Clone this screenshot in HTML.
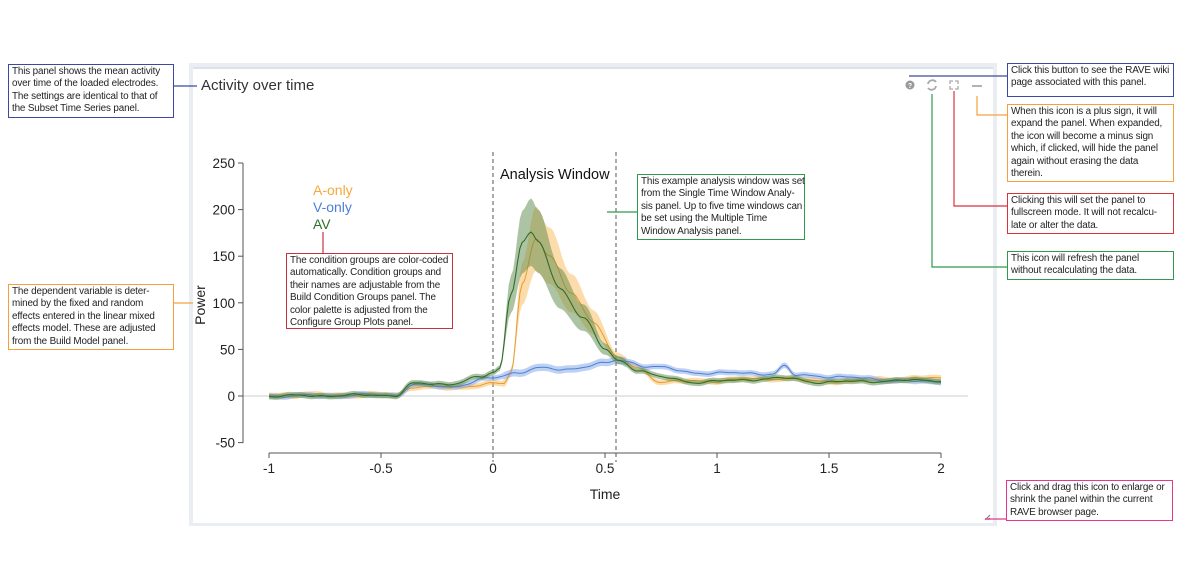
<!DOCTYPE html>
<html><head><meta charset="utf-8">
<style>
body{margin:0;width:1200px;height:561px;background:#fff;position:relative;overflow:hidden;font-family:"Liberation Sans",sans-serif;}
.ann{position:absolute;border:1.3px solid;background:#fff;font-size:9.9px;line-height:12.4px;color:#222;padding:1px 3px;box-sizing:border-box;white-space:nowrap;letter-spacing:-0.15px;}
svg{position:absolute;left:0;top:0}
</style></head><body>
<svg width="1200" height="561" id="s" xmlns="http://www.w3.org/2000/svg">
<rect x="189" y="63" width="808" height="463" fill="#eaeef3"/>
<rect x="193" y="67" width="800" height="456" fill="#fff"/>
<line x1="193" y1="68" x2="993" y2="68" stroke="#dde2e8" stroke-width="2"/>
<text x="201" y="90" font-size="15" fill="#333">Activity over time</text>
<circle cx="910" cy="85" r="4.5" fill="#999"/><text x="910" y="88" font-size="7" font-weight="bold" fill="#fff" text-anchor="middle">?</text>
<path d="M928 84 a4.5 4.5 0 0 1 8 -2 M936 86 a4.5 4.5 0 0 1 -8 2" stroke="#aaa" stroke-width="1.8" fill="none"/>
<path d="M950 84v-3h3 M955 81h3v3 M958 86v3h-3 M953 89h-3v-3" stroke="#aaa" stroke-width="1.3" fill="none"/>
<line x1="972" y1="86" x2="982" y2="86" stroke="#aaa" stroke-width="1.8"/>
<line x1="243" y1="396" x2="968" y2="396" stroke="#ddd" stroke-width="1.5"/>
<g stroke="#555" stroke-width="1" fill="none">
<line x1="243" y1="163" x2="243" y2="443"/>
<line x1="269" y1="453" x2="941" y2="453"/>
</g>
<g font-size="13.5" fill="#222" text-anchor="end" id="yt"></g>
<g font-size="13.5" fill="#222" text-anchor="middle" id="xt"></g>
<text x="605" y="499" font-size="14" text-anchor="middle" fill="#222">Time</text>
<text transform="translate(205,305) rotate(-90)" font-size="14" text-anchor="middle" fill="#222">Power</text>
<line x1="493" y1="152" x2="493" y2="462" stroke="#555" stroke-dasharray="4,3"/>
<line x1="616" y1="152" x2="616" y2="462" stroke="#555" stroke-dasharray="4,3"/>
<text x="500" y="179" font-size="14.5" fill="#111">Analysis Window</text>
<text x="313" y="195" font-size="14" fill="#f5a93c">A-only</text>
<text x="313" y="212" font-size="14" fill="#4c7fd6">V-only</text>
<text x="313" y="229" font-size="14" fill="#2f6e2a">AV</text>
<g id="curves"></g>
<path d="M985 520l5-5M988 520l2-2" stroke="#777"/>
<g fill="none" stroke-width="1.2">
<line x1="173" y1="86" x2="197" y2="86" stroke="#3b4aa0"/>
<line x1="173" y1="303" x2="193" y2="303" stroke="#f5a03c"/>
<line x1="323" y1="232" x2="323" y2="253" stroke="#c8323c"/>
<line x1="607" y1="212" x2="637" y2="212" stroke="#2f9a4f"/>
<line x1="909" y1="76" x2="1007" y2="76" stroke="#3b4aa0"/>
<polyline points="977,96 977,115 1007,115" stroke="#f5a03c"/>
<polyline points="954,91 954,206 1007,206" stroke="#d8323c"/>
<polyline points="932,94 932,267 1007,267" stroke="#2f9a4f"/>
<line x1="985" y1="519" x2="1006" y2="519" stroke="#e8368c"/>
</g>
</svg>
<div class="ann" style="left:8px;top:64px;width:166px;height:54px;border-color:#3b4aa0">This panel shows the mean activity<br>over time of the loaded electrodes.<br>The settings are identical to that of<br>the Subset Time Series panel.</div>
<div class="ann" style="left:8px;top:284px;width:166px;height:66px;border-color:#f5a03c">The dependent variable is deter-<br>mined by the fixed and random<br>effects entered in the linear mixed<br>effects model. These are adjusted<br>from the Build Model panel.</div>
<div class="ann" style="left:286px;top:253px;width:167px;height:76px;border-color:#c8323c">The condition groups are color-coded<br>automatically. Condition groups and<br>their names are adjustable from the<br>Build Condition Groups panel. The<br>color palette is adjusted from the<br>Configure Group Plots panel.</div>
<div class="ann" style="left:637px;top:174px;width:168px;height:66px;border-color:#2f9a4f">This example analysis window was set<br>from the Single Time Window Analy-<br>sis panel. Up to five time windows can<br>be set using the Multiple Time<br>Window Analysis panel.</div>
<div class="ann" style="left:1007px;top:63px;width:167px;height:34px;border-color:#3b4aa0">Click this button to see the RAVE wiki<br>page associated with this panel.</div>
<div class="ann" style="left:1007px;top:104px;width:167px;height:78px;border-color:#f5a03c">When this icon is a plus sign, it will<br>expand the panel. When expanded,<br>the icon will become a minus sign<br>which, if clicked, will hide the panel<br>again without erasing the data<br>therein.</div>
<div class="ann" style="left:1007px;top:193px;width:167px;height:41px;border-color:#d8323c">Clicking this will set the panel to<br>fullscreen mode. It will not recalcu-<br>late or alter the data.</div>
<div class="ann" style="left:1007px;top:251px;width:167px;height:29px;border-color:#2f9a4f">This icon will refresh the panel<br>without recalculating the data.</div>
<div class="ann" style="left:1006px;top:480px;width:167px;height:41px;border-color:#e8368c">Click and drag this icon to enlarge or<br>shrink the panel within the current<br>RAVE browser page.</div>
<script>
var NS="http://www.w3.org/2000/svg";
function X(t){return 493+224*t}function Y(v){return 396-0.932*v}
var yt=document.getElementById('yt');
[250,200,150,100,50,0,-50].forEach(function(v){var t=document.createElementNS(NS,'text');t.setAttribute('x',235);t.setAttribute('y',Y(v)+5);t.textContent=v;yt.appendChild(t);
var l=document.createElementNS(NS,'line');l.setAttribute('x1',238);l.setAttribute('x2',243);l.setAttribute('y1',Y(v));l.setAttribute('y2',Y(v));l.setAttribute('stroke','#555');yt.appendChild(l);});
var xt=document.getElementById('xt');
[[-1,'-1'],[-0.5,'-0.5'],[0,'0'],[0.5,'0.5'],[1,'1'],[1.5,'1.5'],[2,'2']].forEach(function(a){var t=document.createElementNS(NS,'text');t.setAttribute('x',X(a[0]));t.setAttribute('y',473);t.textContent=a[1];xt.appendChild(t);
var l=document.createElementNS(NS,'line');l.setAttribute('x1',X(a[0]));l.setAttribute('x2',X(a[0]));l.setAttribute('y1',453);l.setAttribute('y2',458);l.setAttribute('stroke','#555');xt.appendChild(l);});
function interp(k,t){for(var i=0;i<k.length-1;i++){if(t<=k[i+1][0]){var f=(t-k[i][0])/(k[i+1][0]-k[i][0]);f=f*f*(3-2*f);return k[i][1]+(k[i+1][1]-k[i][1])*f;}}return k[k.length-1][1];}
var AV=[[-1,0],[-0.43,1],[-0.36,13],[-0.2,13],[-0.05,20],[0,25],[0.03,30],[0.08,110],[0.13,165],[0.17,175],[0.2,165],[0.3,115],[0.4,85],[0.5,50],[0.56,38],[0.65,28],[0.75,20],[0.9,15],[1.3,19],[1.45,15],[2,17]];
var A=[[-1,1],[-0.43,1],[-0.36,10],[-0.2,9],[0,13],[0.05,13],[0.08,25],[0.13,120],[0.19,170],[0.25,150],[0.35,110],[0.45,80],[0.55,42],[0.65,30],[0.75,15],[0.9,16],[1.3,19],[1.45,16],[2,19]];
var V=[[-1,0],[-0.43,1],[-0.36,12],[-0.2,10],[0,19],[0.1,25],[0.2,30],[0.3,28],[0.5,35],[0.56,38],[0.7,32],[0.9,25],[1.25,24],[1.3,32],[1.35,22],[2,15]];
function noise(t,s){return 0.9*Math.sin(t*23+s)+0.6*Math.sin(t*47+2*s)+0.3*Math.sin(t*83+s*3);}
function band(k,s,col,w,lc){var top=[],bot=[],mid=[];for(var t=-1;t<=2.0001;t+=0.01){var v=interp(k,t)+noise(t,s);var e=(t>0.05&&t<0.6)?Math.max(4,(v-25)*0.24):3;mid.push(X(t).toFixed(1)+','+Y(v).toFixed(1));top.push(X(t).toFixed(1)+','+Y(v+e).toFixed(1));bot.unshift(X(t).toFixed(1)+','+Y(v-e).toFixed(1));}
var g=document.getElementById('curves');var p=document.createElementNS(NS,'path');p.setAttribute('d','M'+top.join('L')+'L'+bot.join('L')+'Z');p.setAttribute('fill',col);p.setAttribute('fill-opacity',0.5);g.appendChild(p);
var l=document.createElementNS(NS,'path');l.setAttribute('d','M'+mid.join('L'));l.setAttribute('fill','none');l.setAttribute('stroke',lc);l.setAttribute('stroke-width',w);g.appendChild(l);}
band(A,1,'#f7b955',1,'#e99b30');band(V,2,'#7fa3e6',1,'#4c7fd6');band(AV,3,'#5c8a4a',1.1,'#2f6e2a');
</script>
</body></html>
